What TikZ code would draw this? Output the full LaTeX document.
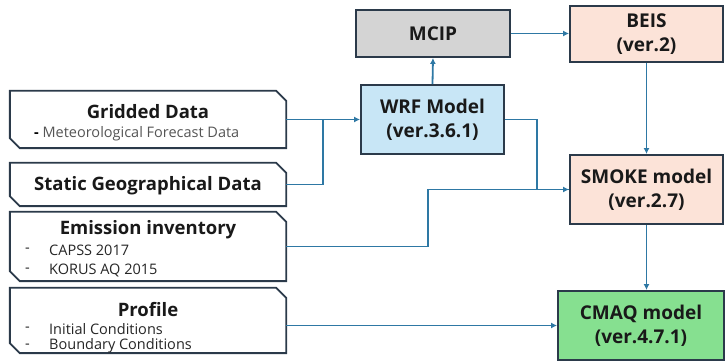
\documentclass[tikz,border=0pt]{standalone}
\usepackage{fontspec}
\setmainfont{Open Sans}[BoldFont={Open Sans Bold}]
\usetikzlibrary{arrows.meta}
\definecolor{conncol}{HTML}{2E78A4}
\definecolor{bordcol}{HTML}{2B3A4A}
\definecolor{wrffill}{HTML}{C8E6F6}
\definecolor{mcipfill}{HTML}{D4D4D4}
\definecolor{beisfill}{HTML}{FCE3D8}
\definecolor{cmaqfill}{HTML}{86E090}
\definecolor{subgray}{HTML}{555555}
\tikzset{
  boxline/.style={draw=bordcol, line width=1.9pt},
  model/.style={boxline, rectangle, inner sep=0pt, align=center, font=\bfseries\fontsize{19}{24}\selectfont, text=black!90},
  blank/.style={rectangle, inner sep=0pt, draw=none},
  title/.style={inner sep=0pt, font=\bfseries\fontsize{18.5}{20}\selectfont, text=black!90},
  item/.style={inner sep=0pt, anchor=west, font=\fontsize{14.5}{16}\selectfont, text=black!85},
  conn/.style={draw=conncol, line width=1.8pt},
  arr/.style={conn, -{Latex[length=6pt,width=6pt]}}
}
\begin{document}
\begin{tikzpicture}[x=1pt,y=-1pt]
\useasboundingbox (0,0) rectangle (726,363);
% left input boxes (snipped corners)
\node[blank, minimum width=276pt, minimum height=57pt] (grid) at (148,119.5) {};
\node[blank, minimum width=276pt, minimum height=43pt] (stat) at (148,184.5) {};
\node[blank, minimum width=276pt, minimum height=69pt] (emis) at (148,246.5) {};
\node[blank, minimum width=276pt, minimum height=65pt] (prof) at (148,320.5) {};
\foreach \n in {grid,stat,emis,prof}
  \draw[boxline, fill=white] (\n.north west) -- ([xshift=-10pt]\n.north east) -- ([yshift=-10pt]\n.north east)
     -- (\n.south east) -- ([xshift=10pt]\n.south west) -- ([yshift=10pt]\n.south west) -- cycle;
\node[title] (gridt) at (148,112) {Gridded Data};
\node[item, text=subgray] (grids) at (34,134) {\textcolor{black}{\bfseries -} Meteorological Forecast Data};
\node[title] (statt) at (148,186) {Static Geographical Data};
\node[title] (emist) at (148,230) {Emission inventory};
\node[item] (emd1) at (25,250) {-};
\node[item] (emi1) at (49,250) {CAPSS 2017};
\node[item] (emd2) at (25,270) {-};
\node[item] (emi2) at (49,270) {KORUS AQ 2015};
\node[title] (proft) at (148,310) {Profile};
\node[item] (prd1) at (25,329) {-};
\node[item] (pri1) at (49,329) {Initial Conditions};
\node[item] (prd2) at (25,346) {-};
\node[item] (pri2) at (49,346) {Boundary Conditions};
% model boxes
\node[model, fill=mcipfill, minimum width=154pt, minimum height=47pt] (mcip) at (433,33.5) {MCIP};
\node[model, fill=wrffill, minimum width=143pt, minimum height=69pt] (wrf) at (432.5,119.5) {WRF Model\\(ver.3.6.1)};
\node[model, fill=beisfill, minimum width=153pt, minimum height=56pt] (beis) at (646.5,34) {BEIS\\(ver.2)};
\node[model, fill=beisfill, minimum width=153pt, minimum height=69pt] (smoke) at (646.5,189.5) {SMOKE model\\(ver.2.7)};
\node[model, fill=cmaqfill, minimum width=166pt, minimum height=69pt] (cmaq) at (641,325.5) {CMAQ model\\(ver.4.7.1)};
% connectors
\coordinate (j1) at (323,119.5);
\coordinate (j2) at (537,119.5);
\coordinate (j3) at (428,246.5);
\draw[arr] (grid.east) -- (wrf.west);
\draw[conn] (stat.east) -| (j1);
\draw[arr] (wrf.north) -- (mcip.south);
\draw[arr] (mcip.east) -- (mcip.east -| beis.west);
\draw[conn] (wrf.east) -- (j2) |- (smoke.west);
\draw[arr] (emis.east) -- (j3) |- (smoke.west);
\draw[arr] (beis.south) -- (smoke.north);
\draw[arr] (smoke.south) -- (smoke.south |- cmaq.north);
\draw[arr] (prof.east |- cmaq.west) -- (cmaq.west);
\end{tikzpicture}
\end{document}
